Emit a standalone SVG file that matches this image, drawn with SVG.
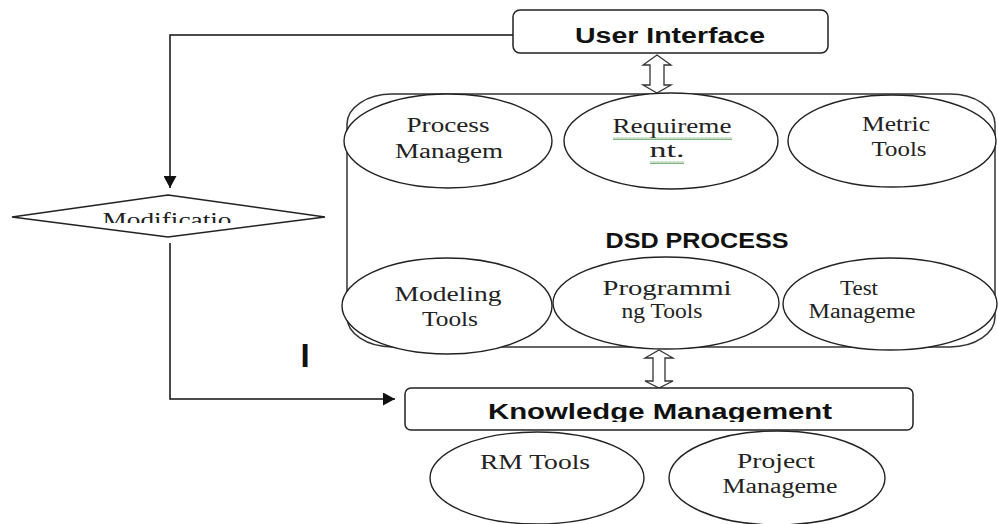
<svg xmlns="http://www.w3.org/2000/svg" width="998" height="524" viewBox="0 0 998 524">
  <style>
    .box { fill: #fff; stroke: #222; stroke-width: 1.5; }
    .ell { fill: #fff; stroke: #222; stroke-width: 1.4; }
    .frame { fill: none; stroke: #333; stroke-width: 1.5; }
    .line { fill: none; stroke: #111; stroke-width: 1.5; }
    .barrow { fill: #fff; stroke: #333; stroke-width: 1.3; stroke-linejoin: miter; }
    .lbl { font-family: "Liberation Serif", "Times New Roman", serif; font-size: 20px; fill: #222; text-anchor: middle; }
    .head { font-family: "Liberation Sans", Arial, sans-serif; font-weight: bold; font-size: 22px; fill: #111; text-anchor: middle; }
  </style>
  <defs>
    <marker id="tri" viewBox="0 0 12 13" refX="12" refY="6.5" markerWidth="12" markerHeight="13" markerUnits="userSpaceOnUse" orient="auto">
      <path d="M0,0 L12,6.5 L0,13 Z" fill="#111"/>
    </marker>
    <pattern id="squiggle" width="4" height="3" patternUnits="userSpaceOnUse">
      <polyline points="0,2.5 1,0.5 2,2.5 3,0.5 4,2.5" fill="none" stroke="#5f9f5f" stroke-width="0.8"/>
    </pattern>
    <clipPath id="clipMod"><rect x="0" y="180" width="340" height="43"/></clipPath>
    <clipPath id="clipKm"><rect x="405" y="388" width="508" height="34"/></clipPath>
  </defs>
  <rect width="998" height="524" fill="#fff"/>

  <!-- connectors -->
  <g id="connectors">
    <path class="line" d="M513,35 H170 V188" marker-end="url(#tri)"/>
    <path class="line" d="M170,243 V399 H395" marker-end="url(#tri)"/>
    <path class="barrow" d="M657,55 L671,65 L664,65 L664,85 L671,85 L657,93 L643,85 L650,85 L650,65 L643,65 Z"/>
    <path class="barrow" d="M659,350 L673,358 L665,358 L665,381 L673,381 L659,388 L645,381 L653,381 L653,358 L645,358 Z"/>
  </g>

  <!-- user interface -->
  <g id="user-interface">
    <rect class="box" x="513" y="10" width="315" height="43" rx="7"/>
    <text class="head" x="670" y="43" textLength="190" lengthAdjust="spacingAndGlyphs">User Interface</text>
  </g>

  <!-- modification decision -->
  <g id="modification">
    <polygon class="box" points="168,195 325,217 168,237 12,217"/>
    <g clip-path="url(#clipMod)">
      <text class="lbl" x="167" y="227" textLength="129" lengthAdjust="spacingAndGlyphs">Modificatio</text>
    </g>
  </g>

  <!-- DSD process container -->
  <g id="dsd-process">
    <rect class="frame" x="347" y="94" width="648" height="253" rx="45" ry="30"/>
    <text class="head" x="697" y="248" font-size="21" textLength="183" lengthAdjust="spacingAndGlyphs">DSD PROCESS</text>
  </g>

  <g id="process-management">
    <ellipse class="ell" cx="448" cy="141" rx="104" ry="47"/>
    <text class="lbl" x="448" y="132" textLength="83" lengthAdjust="spacingAndGlyphs">Process</text>
    <text class="lbl" x="449" y="158" textLength="108" lengthAdjust="spacingAndGlyphs">Managem</text>
  </g>

  <g id="requirement">
    <ellipse class="ell" cx="671" cy="141" rx="107" ry="48"/>
    <text class="lbl" x="672" y="133" textLength="119" lengthAdjust="spacingAndGlyphs">Requireme</text>
    <text class="lbl" x="667" y="157" textLength="35" lengthAdjust="spacingAndGlyphs">nt.</text>
    <rect x="613" y="137" width="119" height="3" fill="url(#squiggle)"/>
    <rect x="650" y="161" width="34" height="3" fill="url(#squiggle)"/>
  </g>

  <g id="metric-tools">
    <ellipse class="ell" cx="892" cy="141" rx="104" ry="46"/>
    <text class="lbl" x="896" y="131" textLength="68" lengthAdjust="spacingAndGlyphs">Metric</text>
    <text class="lbl" x="899" y="156" textLength="55" lengthAdjust="spacingAndGlyphs">Tools</text>
  </g>

  <g id="modeling-tools">
    <ellipse class="ell" cx="447" cy="306" rx="105" ry="48"/>
    <text class="lbl" x="448" y="301" textLength="107" lengthAdjust="spacingAndGlyphs">Modeling</text>
    <text class="lbl" x="450" y="326" textLength="56" lengthAdjust="spacingAndGlyphs">Tools</text>
  </g>

  <g id="programming-tools">
    <ellipse class="ell" cx="666" cy="303" rx="113" ry="46"/>
    <text class="lbl" x="667" y="295" textLength="129" lengthAdjust="spacingAndGlyphs">Programmi</text>
    <text class="lbl" x="662" y="318" textLength="81" lengthAdjust="spacingAndGlyphs">ng Tools</text>
  </g>

  <g id="test-management">
    <ellipse class="ell" cx="890" cy="304" rx="107" ry="46"/>
    <text class="lbl" x="859" y="295" textLength="38" lengthAdjust="spacingAndGlyphs">Test</text>
    <text class="lbl" x="862" y="318" textLength="107" lengthAdjust="spacingAndGlyphs">Manageme</text>
  </g>

  <!-- loose mark -->
  <text id="mark" x="305" y="367" font-family="Liberation Sans, Arial, sans-serif" font-weight="bold" font-size="33" fill="#111" text-anchor="middle">I</text>

  <!-- knowledge management -->
  <g id="knowledge-management">
    <rect class="box" x="405" y="388" width="508" height="42" rx="6"/>
    <g clip-path="url(#clipKm)">
      <text class="head" x="660" y="419" font-size="21" textLength="344" lengthAdjust="spacingAndGlyphs">Knowledge Management</text>
    </g>
  </g>

  <g id="rm-tools">
    <ellipse class="ell" cx="537" cy="478" rx="107" ry="46"/>
    <text class="lbl" x="535" y="469" textLength="110" lengthAdjust="spacingAndGlyphs">RM Tools</text>
  </g>

  <g id="project-management">
    <ellipse class="ell" cx="777" cy="478" rx="108" ry="47"/>
    <text class="lbl" x="776" y="468" textLength="78" lengthAdjust="spacingAndGlyphs">Project</text>
    <text class="lbl" x="780" y="493" textLength="115" lengthAdjust="spacingAndGlyphs">Manageme</text>
  </g>
</svg>
